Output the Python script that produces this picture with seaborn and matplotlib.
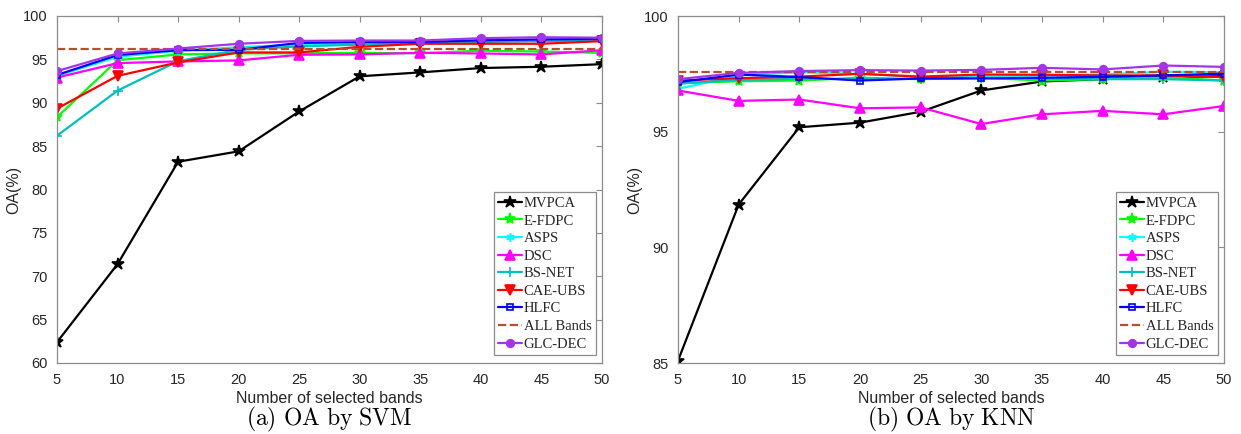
import numpy as np
import matplotlib
matplotlib.use("Agg")
import matplotlib.pyplot as plt
import seaborn as sns

# ---------------- data ----------------
bands = [5, 10, 15, 20, 25, 30, 35, 40, 45, 50]
methods = ["MVPCA", "E-FDPC", "ASPS", "DSC", "BS-NET", "CAE-UBS", "HLFC", "ALL Bands", "GLC-DEC"]

svm_mvpca = [62.4, 71.4, 83.2, 84.4, 89.0, 93.05, 93.5, 94.0, 94.15, 94.45]
svm_efdpc = [88.35, 94.9, 95.57, 95.7, 95.7, 95.75, 95.7, 96.0, 95.9, 95.75]
svm_asps = [93.1, 95.3, 96.0, 96.4, 96.7, 96.8, 97.0, 97.1, 97.2, 97.3]
svm_dsc = [92.9, 94.57, 94.76, 94.88, 95.53, 95.57, 95.76, 95.68, 95.57, 96.06]
svm_bsnet = [86.2, 91.4, 94.8, 96.1, 96.5, 96.7, 96.9, 97.0, 97.1, 97.2]
svm_caeubs = [89.33, 93.1, 94.65, 95.8, 95.8, 96.45, 96.8, 96.8, 96.8, 97.1]
svm_hlfc = [93.2, 95.5, 96.06, 96.1, 96.9, 97.0, 97.0, 97.2, 97.3, 97.36]
svm_all = [96.18] * 10
svm_glcdec = [93.65, 95.68, 96.25, 96.8, 97.13, 97.17, 97.17, 97.44, 97.55, 97.5]

knn_mvpca = [85.1, 91.85, 95.19, 95.39, 95.86, 96.78, 97.17, 97.27, 97.35, 97.4]
knn_efdpc = [97.1, 97.18, 97.21, 97.33, 97.27, 97.33, 97.21, 97.27, 97.36, 97.21]
knn_asps = [96.85, 97.43, 97.57, 97.5, 97.36, 97.38, 97.43, 97.47, 97.59, 97.57]
knn_dsc = [96.78, 96.33, 96.39, 96.01, 96.05, 95.33, 95.75, 95.9, 95.75, 96.11]
knn_bsnet = [97.07, 97.24, 97.28, 97.28, 97.28, 97.33, 97.28, 97.27, 97.27, 97.21]
knn_caeubs = [97.21, 97.31, 97.38, 97.5, 97.38, 97.47, 97.46, 97.43, 97.43, 97.36]
knn_hlfc = [97.14, 97.47, 97.36, 97.21, 97.3, 97.3, 97.33, 97.37, 97.43, 97.51]
knn_all = [97.6] * 10
knn_glcdec = [97.27, 97.54, 97.62, 97.66, 97.64, 97.67, 97.76, 97.69, 97.86, 97.8]

svm_series = [svm_mvpca, svm_efdpc, svm_asps, svm_dsc, svm_bsnet, svm_caeubs, svm_hlfc, svm_all, svm_glcdec]
knn_series = [knn_mvpca, knn_efdpc, knn_asps, knn_dsc, knn_bsnet, knn_caeubs, knn_hlfc, knn_all, knn_glcdec]

svm_yticks = [60, 65, 70, 75, 80, 85, 90, 95, 100]
knn_yticks = [85, 90, 95, 100]
xticks = bands

# ---------------- style ----------------
sns.set_style("white")
plt.rcParams["mathtext.fontset"] = "cm"
plt.rcParams["font.family"] = ["Liberation Sans", "DejaVu Sans"]

styles = [
    dict(color="#000000", marker="*", ms=9, mfc="#000000", ls="-"),
    dict(color="#00ff00", marker="*", ms=8, mfc="#00ff00", ls="-"),
    dict(color="#00ffff", marker=(6, 2, 0), ms=6, mfc="#00ffff", ls="-"),
    dict(color="#ff00ff", marker="^", ms=7, mfc="#ff00ff", ls="-"),
    dict(color="#00bfbf", marker="+", ms=7, mfc="#00bfbf", ls="-"),
    dict(color="#ff0000", marker="v", ms=7, mfc="#ff0000", ls="-"),
    dict(color="#0000ff", marker="s", ms=5, mfc="none", ls="-"),
    dict(color="#b5502a", marker=None, ms=0, mfc="none", ls="--"),
    dict(color="#a335e8", marker="o", ms=5.5, mfc="#a335e8", ls="-"),
]

fig = plt.figure(figsize=(12.41, 4.34), dpi=100)
W, H = 1241, 434
axL = fig.add_axes([57 / W, (H - 363) / H, 545 / W, 347 / H])
axR = fig.add_axes([678 / W, (H - 363) / H, 546 / W, 347 / H])

tick_font = ["Liberation Sans", "DejaVu Sans"]


def draw(ax, series, ylim, yticks, caption):
    for name, vals, st in zip(methods, series, styles):
        kw = dict(color=st["color"], linestyle=st["ls"], linewidth=1.6, label=name)
        if st["marker"] is not None:
            kw.update(marker=st["marker"], markersize=st["ms"],
                      markerfacecolor=st["mfc"], markeredgecolor=st["color"],
                      markeredgewidth=1.2)
        else:
            kw.update(dashes=(5, 4))
        sns.lineplot(x=bands, y=vals, ax=ax, errorbar=None, **kw)
    ax.set_xlim(5, 50)
    ax.set_ylim(*ylim)
    ax.set_xticks(xticks)
    ax.set_yticks(yticks)
    ax.tick_params(direction="in", top=True, right=True, length=4, width=0.8,
                   color="#8c8c8c", labelcolor="#262626", labelsize=10.5, pad=7)
    for lab in ax.get_xticklabels() + ax.get_yticklabels():
        lab.set_family(tick_font)
    for sp in ax.spines.values():
        sp.set_color("#8c8c8c")
        sp.set_linewidth(0.9)
    ax.set_xlabel("Number of selected bands", fontsize=11.5, family=tick_font,
                  color="#262626", labelpad=3)
    ax.set_ylabel("OA(%)", fontsize=11.5, family=tick_font, color="#262626", labelpad=1)
    leg = ax.legend(loc="lower right", bbox_to_anchor=(1 - 6 / 545, 8 / 347),
                    borderaxespad=0, prop={"family": "Liberation Serif", "size": 10.5},
                    frameon=True, fancybox=False, handlelength=1.6, handletextpad=0.15,
                    labelspacing=0.3, borderpad=0.3, framealpha=1)
    leg.get_frame().set_edgecolor("#8c8c8c")
    leg.get_frame().set_linewidth(0.9)
    ax.text(0.5, -0.12, caption, transform=ax.transAxes, ha="center", va="top",
            fontsize=17, color="#000000")


draw(axL, svm_series, (60, 100), svm_yticks, r"$\mathrm{(a)\ OA\ by\ SVM}$")
draw(axR, knn_series, (85, 100), knn_yticks, r"$\mathrm{(b)\ OA\ by\ KNN}$")

fig.savefig("out.png", dpi=100)
